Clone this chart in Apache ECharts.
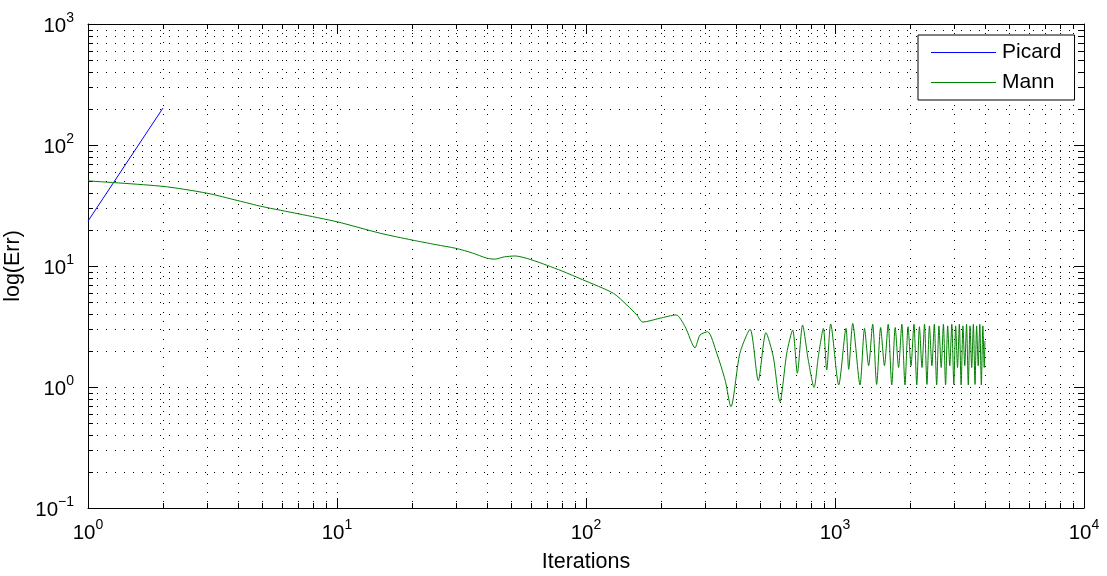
<!DOCTYPE html>
<html>
<head>
<meta charset="utf-8">
<script src="https://cdn.jsdelivr.net/npm/echarts@6/dist/echarts.min.js"></script>
<style>
  html, body { margin: 0; padding: 0; background: #fff; }
  #chart { width: 1107px; height: 576px; }
</style>
</head>
<body>
<div id="chart"></div>
<script>
// data
const picardIter = [1, 2];
const picardErr = [23.5, 202];

const mannIter = [
  1, 2, 3, 4, 5, 7, 10, 15, 20, 25,
  30, 35, 40, 43, 47, 52, 60, 70, 80, 97,
  129, 146, 160, 169, 198, 230, 250, 274, 287, 308,
  335, 362, 382, 415, 456, 492, 528, 565, 601, 640,
  676, 706, 741, 781, 824, 857, 898, 926, 961, 1035,
  1107, 1135, 1178, 1260,
  1314, 1365, 1417, 1470, 1525, 1580, 1635, 1690,
  1745, 1800, 1855, 1910, 1965, 2020, 2075, 2130,
  2183, 2235, 2288, 2340, 2395, 2450, 2505, 2560,
  2615, 2670, 2725, 2780, 2835, 2890, 2945, 3000,
  3052, 3105, 3158, 3210, 3265, 3320, 3375, 3430,
  3485, 3540, 3595, 3650, 3705, 3760, 3815, 3870,
  3925, 3975, 4000
];
const mannErr = [
  50.5, 45.5, 40, 34.7, 31, 27, 23.2, 18.6, 16.4, 15.0,
  14.0, 12.8, 11.6, 11.4, 11.9, 12.1, 11.3, 10.1, 9.1, 7.7,
  5.94, 4.75, 3.94, 3.44, 3.70, 3.94, 3.15, 2.11, 2.69, 2.86,
  1.90, 1.14, 0.687, 1.90, 3.0, 1.13, 2.81, 1.78, 0.757, 1.90,
  2.96, 1.30, 3.25, 1.67, 0.99, 1.78, 3.05, 1.38, 3.32, 1.04,
  3.05, 1.40, 3.35, 1.04,
  3.05, 1.5, 3.3, 1.05, 3.1, 1.5, 3.3, 1.04,
  3.1, 1.45, 3.3, 1.04, 3.15, 1.5, 3.3, 1.04,
  3.15, 1.45, 3.3, 1.05, 3.2, 1.5, 3.3, 1.04,
  3.2, 1.45, 3.3, 1.04, 3.2, 1.5, 3.3, 1.05,
  3.2, 1.45, 3.3, 1.04, 3.2, 1.5, 3.3, 1.04,
  3.2, 1.45, 3.3, 1.05, 3.2, 1.5, 3.3, 1.04,
  3.2, 1.45, 2.4
];

const xDecades = [1, 10, 100, 1000];      // 10^0 .. 10^4
const yDecades = [0.1, 1, 10, 100];       // 10^-1 .. 10^3

// minor tick values 2..9 inside every decade
const xMinor = [];
xDecades.forEach(d => { for (let k = 2; k <= 9; k++) xMinor.push(+(k * d).toPrecision(3)); });
const yMinor = [];
yDecades.forEach(d => { for (let k = 2; k <= 9; k++) yMinor.push(+(k * d).toPrecision(3)); });

const font = "'Liberation Sans', Arial, Helvetica, sans-serif";
const dotted = [1, 8];

function powLabel(v) {
  const e = Math.round(Math.log10(v));
  return '{b|10}{s|' + (e < 0 ? '\u2212' + (-e) : e) + '}';
}
const richPow = {
  b: { fontSize: 20.5, fontFamily: font, color: '#000', lineHeight: 26, verticalAlign: 'bottom' },
  s: { fontSize: 14, fontFamily: font, color: '#000', lineHeight: 26, verticalAlign: 'top' }
};

function pxAlign(v) { return Math.round(v) + 0.5; }

// minor grid lines + inward minor ticks on both sides of the box
function xMinorItem(params, api) {
  const cs = params.coordSys;
  const x = pxAlign(api.coord([api.value(0), 1])[0]);
  const top = cs.y, bot = cs.y + cs.height;
  return {
    type: 'group',
    children: [
      { type: 'line', shape: { x1: x, y1: top, x2: x, y2: bot }, style: { stroke: '#000', lineWidth: 1, lineDash: dotted } },
      { type: 'line', shape: { x1: x, y1: bot, x2: x, y2: bot - 5 }, style: { stroke: '#000', lineWidth: 1 } },
      { type: 'line', shape: { x1: x, y1: top, x2: x, y2: top + 5 }, style: { stroke: '#000', lineWidth: 1 } }
    ]
  };
}
function yMinorItem(params, api) {
  const cs = params.coordSys;
  const y = pxAlign(api.coord([1, api.value(1)])[1]);
  const left = cs.x, right = cs.x + cs.width;
  return {
    type: 'group',
    children: [
      { type: 'line', shape: { x1: left, y1: y, x2: right, y2: y }, style: { stroke: '#000', lineWidth: 1, lineDash: dotted } },
      { type: 'line', shape: { x1: left, y1: y, x2: left + 5, y2: y }, style: { stroke: '#000', lineWidth: 1 } },
      { type: 'line', shape: { x1: right, y1: y, x2: right - 5, y2: y }, style: { stroke: '#000', lineWidth: 1 } }
    ]
  };
}

const chart = echarts.init(document.getElementById('chart'), null, { renderer: 'canvas' });

const baseX = {
  type: 'log', logBase: 10, min: 1, max: 10000,
  axisLine: { show: true, onZero: false, lineStyle: { color: '#000', width: 1 } },
  axisTick: { show: true, inside: true, length: 10, lineStyle: { color: '#000' } },
  minorTick: { show: false },
  splitLine: { show: false }
};
const baseY = {
  type: 'log', logBase: 10, min: 0.1, max: 1000,
  axisLine: { show: true, onZero: false, lineStyle: { color: '#000', width: 1 } },
  axisTick: { show: true, inside: true, length: 10, lineStyle: { color: '#000' } },
  minorTick: { show: false },
  splitLine: { show: false }
};

chart.setOption({
  animation: false,
  backgroundColor: '#fff',
  grid: { left: 88, right: 23, top: 24, bottom: 68, show: false, containLabel: false, outerBoundsMode: 'none' },
  legend: {
    data: ['Picard', 'Mann'],
    orient: 'vertical',
    left: 918, top: 35,
    padding: [7, 13, 7, 13],
    itemGap: 9,
    itemWidth: 65,
    itemHeight: 1,
    icon: 'rect',
    backgroundColor: '#fff',
    borderColor: '#000',
    borderWidth: 1,
    borderRadius: 0,
    selectedMode: false,
    textStyle: { fontSize: 21, fontFamily: font, color: '#000', lineHeight: 20, padding: [0, 0, 0, 1] }
  },
  xAxis: [
    Object.assign({}, baseX, {
      position: 'bottom',
      name: 'Iterations',
      nameLocation: 'middle',
      nameGap: 43,
      nameTextStyle: { fontSize: 21.5, fontFamily: font, color: '#000' },
      axisLabel: { show: true, margin: 10, formatter: powLabel, rich: richPow },
      splitLine: { show: true, lineStyle: { color: '#000', width: 1, type: dotted } }
    }),
    Object.assign({}, baseX, { position: 'top', axisLabel: { show: false } })
  ],
  yAxis: [
    Object.assign({}, baseY, {
      position: 'left',
      name: 'log(Err)',
      nameLocation: 'middle',
      nameGap: 50,
      nameRotate: 90,
      nameTextStyle: { fontSize: 21.5, fontFamily: font, color: '#000' },
      axisLabel: { show: true, margin: 14, formatter: powLabel, rich: richPow },
      splitLine: { show: true, lineStyle: { color: '#000', width: 1, type: dotted } }
    }),
    Object.assign({}, baseY, { position: 'right', axisLabel: { show: false } })
  ],
  series: [
    {
      type: 'custom', name: 'xminor', silent: true, clip: false,
      renderItem: xMinorItem,
      encode: { x: 0, y: 1 },
      data: xMinor.map(v => [v, 1]),
      z: 1
    },
    {
      type: 'custom', name: 'yminor', silent: true, clip: false,
      renderItem: yMinorItem,
      encode: { x: 0, y: 1 },
      data: yMinor.map(v => [1, v]),
      z: 1
    },
    {
      name: 'Picard', type: 'line',
      data: picardIter.map((x, i) => [x, picardErr[i]]),
      symbol: 'none',
      color: '#0000ff',
      lineStyle: { color: '#0000ff', width: 1 },
      z: 3
    },
    {
      name: 'Mann', type: 'line',
      data: mannIter.map((x, i) => [x, mannErr[i]]),
      symbol: 'none',
      smooth: 0.25,
      color: '#008000',
      lineStyle: { color: '#008000', width: 1 },
      z: 4
    }
  ]
});
</script>
</body>
</html>
